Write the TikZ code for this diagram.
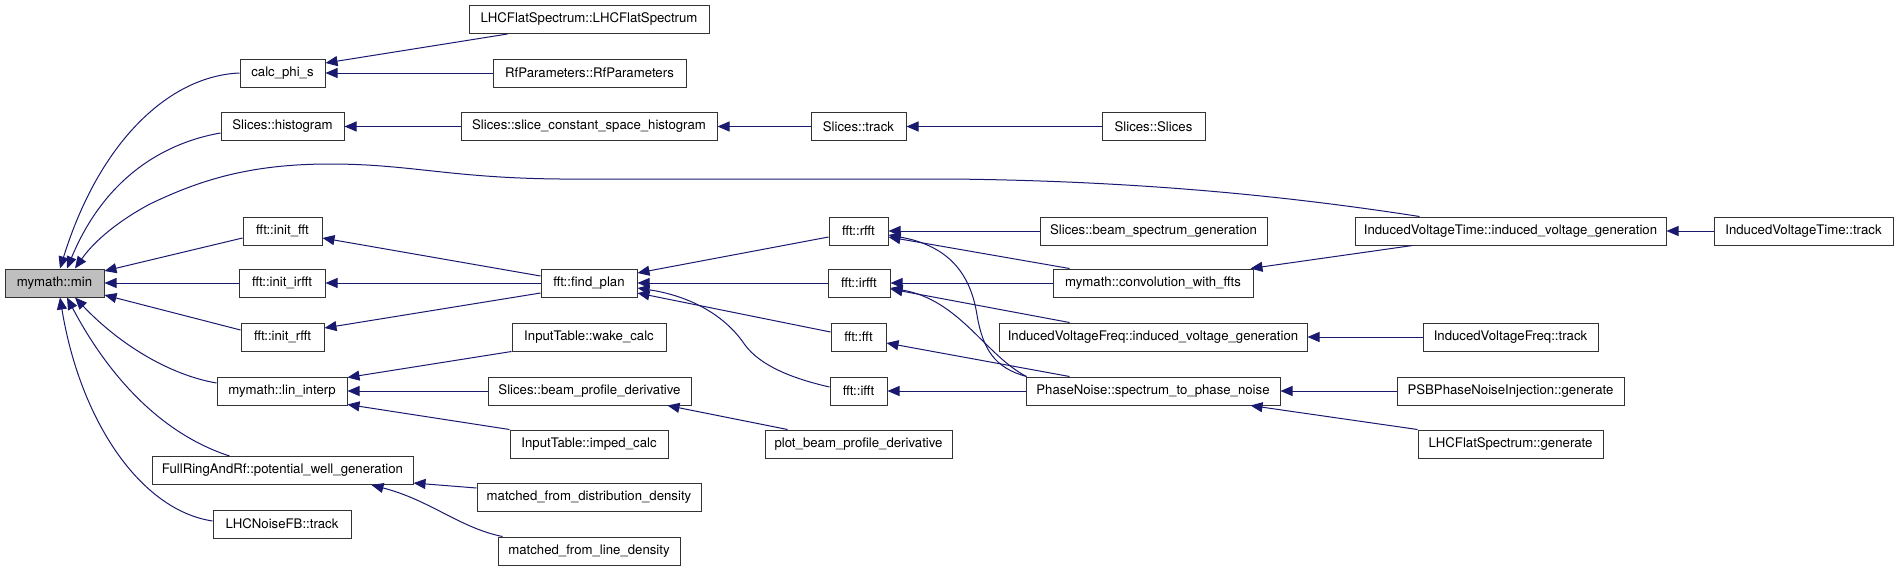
\documentclass[tikz,border=0pt]{standalone}
\usepackage{fontspec}
\setmainfont{TeX Gyre Heros}
\usetikzlibrary{arrows.meta,calc}
\definecolor{edgec}{HTML}{191970}
\definecolor{boxc}{HTML}{333333}
\begin{document}
\begin{tikzpicture}[x=1pt,y=-1pt,
  box/.style={draw=boxc, line width=1pt, inner sep=0pt, minimum height=28pt,
    font=\fontsize{13.2}{15}\selectfont, fill=white},
  e/.style={draw=edgec, line width=1pt, -{Triangle[length=12pt,width=10pt,fill=edgec]}},
]
\useasboundingbox[fill=white] (0,0) rectangle (1899,571);

% column 1
\node[box, minimum width=99pt, fill=gray!50] (min) at (54.5,283) {mymath::min};
% column 2
\node[box, minimum width=85pt]  (calc)      at (282.5,73)   {calc\_phi\_s};
\node[box, minimum width=123pt] (hist)      at (282.5,126.5){Slices::histogram};
\node[box, minimum width=79pt]  (initfft)   at (282.5,231)  {fft::init\_fft};
\node[box, minimum width=86pt]  (initirfft) at (282,283)    {fft::init\_irfft};
\node[box, minimum width=83pt]  (initrfft)  at (282.5,337)  {fft::init\_rfft};
\node[box, minimum width=130pt] (lininterp) at (282,391)    {mymath::lin\_interp};
\node[box, minimum width=261pt] (fullring)  at (282.5,470.5){FullRingAndRf::potential\_well\_generation};
\node[box, minimum width=138pt] (noisefb)   at (282,524)    {LHCNoiseFB::track};
% column 3
\node[box, minimum width=240pt] (lhcfsc)    at (589,19.5)   {LHCFlatSpectrum::LHCFlatSpectrum};
\node[box, minimum width=193pt] (rfpar)     at (589.5,73)   {RfParameters::RfParameters};
\node[box, minimum width=256pt] (slicecsh)  at (589,126.5)  {Slices::slice\_constant\_space\_histogram};
\node[box, minimum width=96pt]  (findplan)  at (589,283)    {fft::find\_plan};
\node[box, minimum width=154pt] (wake)      at (589,337)    {InputTable::wake\_calc};
\node[box, minimum width=203pt] (bpd)       at (589.5,391)  {Slices::beam\_profile\_derivative};
\node[box, minimum width=158pt] (imped)     at (589,444)    {InputTable::imped\_calc};
\node[box, minimum width=224pt] (mdist)     at (589,497)    {matched\_from\_distribution\_density};
\node[box, minimum width=182pt] (mline)     at (589,551)    {matched\_from\_line\_density};
% column 4
\node[box, minimum width=95pt]  (strack)    at (858.5,126.5){Slices::track};
\node[box, minimum width=59pt]  (rfft)      at (858.5,231)  {fft::rfft};
\node[box, minimum width=62pt]  (irfft)     at (859,283)    {fft::irfft};
\node[box, minimum width=55pt]  (fft)       at (858.5,337)  {fft::fft};
\node[box, minimum width=57pt]  (ifft)      at (858.5,391)  {fft::ifft};
\node[box, minimum width=187pt] (plotbpd)   at (858.5,444)  {plot\_beam\_profile\_derivative};
% column 5
\node[box, minimum width=103pt] (sslices)   at (1153.5,126.5){Slices::Slices};
\node[box, minimum width=227pt] (bsg)       at (1153.5,231) {Slices::beam\_spectrum\_generation};
\node[box, minimum width=200pt] (conv)      at (1153,283)   {mymath::convolution\_with\_ffts};
\node[box, minimum width=308pt] (ivfivg)    at (1153,337)   {InducedVoltageFreq::induced\_voltage\_generation};
\node[box, minimum width=254pt] (pn)        at (1153,391)   {PhaseNoise::spectrum\_to\_phase\_noise};
% column 6
\node[box, minimum width=311pt] (ivtivg)    at (1510.5,231) {InducedVoltageTime::induced\_voltage\_generation};
\node[box, minimum width=175pt] (ivftrack)  at (1510.5,337) {InducedVoltageFreq::track};
\node[box, minimum width=227pt] (psb)       at (1510.5,391) {PSBPhaseNoiseInjection::generate};
\node[box, minimum width=185pt] (lhcfsgen)  at (1510.5,444) {LHCFlatSpectrum::generate};
% column 7
\node[box, minimum width=179pt] (ivttrack)  at (1803.5,231) {InducedVoltageTime::track};

% edges into min
\draw[e] (calc.west) .. controls (170,76) and (100,140) .. ($(min.north)+(5.5,0)$);
\draw[e] ($(hist.west)+(0,6.5)$) .. controls (180,140) and (110,165) .. ($(min.north)+(12.5,0)$);
\draw[e] ($(ivtivg.north west)+(65,0)$) .. controls (1300,198) and (1150,181) .. (950,179)
   -- (560,179) .. controls (450,178) and (410,164) .. (330,164)
   .. controls (250,164) and (200,180) .. (150,204)
   .. controls (120,220) and (95,240) .. ($(min.north)+(20.5,0)$);
\draw[e] ($(initfft.west)+(0,7)$) -- ($(min.east)+(0,-12)$);
\draw[e] (initirfft.west) -- (min.east);
\draw[e] ($(initrfft.west)+(0,-7)$) -- ($(min.east)+(0,12)$);
\draw[e] ($(lininterp.west)+(0,-8)$) .. controls (170,375) and (120,345) .. ($(min.south)+(20.5,0)$);
\draw[e] ($(fullring.north west)+(78,0)$) .. controls (150,430) and (100,360) .. ($(min.south)+(12.5,0)$);
\draw[e] ($(noisefb.west)+(0,-3)$) .. controls (140,510) and (80,420) .. ($(min.south)+(5.5,0)$);

% calc_phi_s, histogram chain
\draw[e] ($(lhcfsc.south west)+(39,0)$) -- ($(calc.east)+(0,-10)$);
\draw[e] (rfpar.west) -- (calc.east);
\draw[e] (slicecsh.west) -- (hist.east);
\draw[e] (strack.west) -- (slicecsh.east);
\draw[e] (sslices.west) -- (strack.east);

% find_plan
\draw[e] ($(findplan.west)+(0,-7)$) -- ($(initfft.east)+(0,7)$);
\draw[e] (findplan.west) -- (initirfft.east);
\draw[e] ($(findplan.west)+(0,10)$) -- ($(initrfft.east)+(0,-9)$);
\draw[e] ($(rfft.west)+(0,6)$) -- ($(findplan.east)+(0,-10)$);
\draw[e] (irfft.west) -- (findplan.east);
\draw[e] ($(fft.west)+(0,-5)$) -- ($(findplan.east)+(0,10)$);
\draw[e] ($(ifft.west)+(0,-4)$) .. controls (790,378) and (760,365) .. (745,345)
   .. controls (725,315) and (690,296) .. ($(findplan.east)+(0,5)$);

% rfft, irfft, fft, ifft callers
\draw[e] (bsg.west) -- (rfft.east);
\draw[e] ($(conv.north west)+(17,0)$) -- ($(rfft.east)+(0,6)$);
\draw[e] ($(pn.north west)+(1,0)$) .. controls (995,368) and (983,350) .. (977,315)
   .. controls (970,270) and (945,245) .. ($(rfft.east)+(0,4)$);
\draw[e] (conv.west) -- (irfft.east);
\draw[e] ($(ivfivg.north west)+(71,0)$) -- ($(irfft.east)+(0,6)$);
\draw[e] ($(pn.north west)+(1,0)$) .. controls (985,355) and (960,300) .. ($(irfft.east)+(0,5)$);
\draw[e] ($(pn.north west)+(44,0)$) -- ($(fft.east)+(0,6)$);
\draw[e] (pn.west) -- (ifft.east);

% right side
\draw[e] ($(ivtivg.south west)+(58,0)$) -- ($(conv.north east)+(-3,0)$);
\draw[e] (ivttrack.west) -- (ivtivg.east);
\draw[e] (ivftrack.west) -- (ivfivg.east);
\draw[e] (psb.west) -- (pn.east);
\draw[e] (lhcfsgen.north west) -- ($(pn.south east)+(-30,0)$);

% lin_interp callers
\draw[e] (wake.south west) -- ($(lininterp.north east)+(0,1)$);
\draw[e] (bpd.west) -- (lininterp.east);
\draw[e] (imped.north west) -- ($(lininterp.south east)+(0,-1)$);
\draw[e] ($(plotbpd.north west)+(23,0)$) -- ($(bpd.south east)+(-24,0)$);

% FullRingAndRf callers
\draw[e] ($(mdist.west)+(0,-9)$) -- ($(fullring.south east)+(0,-2)$);
\draw[e] ($(mline.north west)+(5,0)$) .. controls (460,528) and (430,500) .. ($(fullring.south west)+(220,0)$);
\end{tikzpicture}
\end{document}
